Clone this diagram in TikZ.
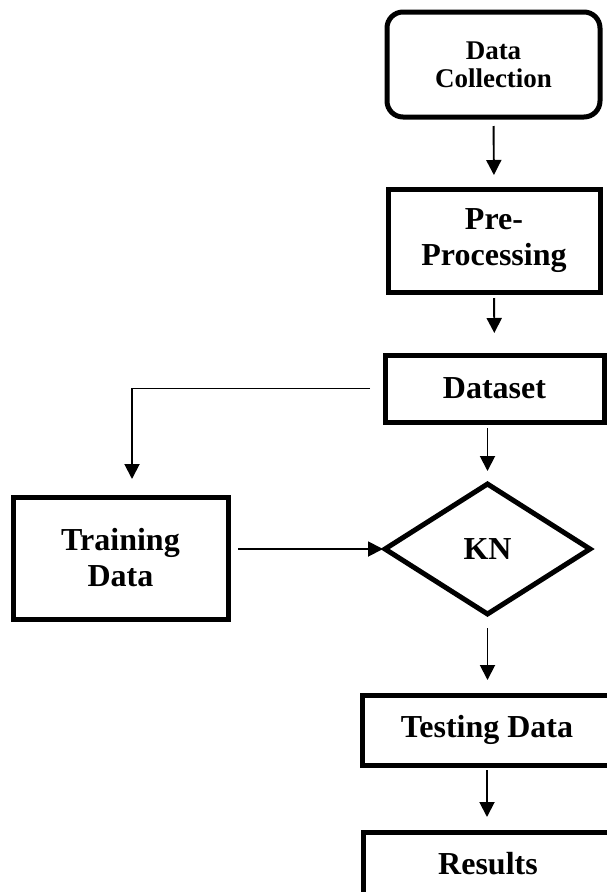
\documentclass[tikz,border=0pt]{standalone}
\usepackage{fontspec}
\setmainfont{Liberation Serif}
\usetikzlibrary{arrows.meta,shapes.geometric}
\begin{document}
\begin{tikzpicture}[x=1pt,y=-1pt,
  box/.style={draw, line width=5pt, rectangle, inner sep=0pt, outer sep=0pt, align=center,
    font=\fontsize{32}{36}\selectfont\bfseries},
  arr/.style={draw, line width=1.9pt, -{Triangle[width=15pt,length=15pt]}}]
\useasboundingbox (0,0) rectangle (607,892);
\node[box, rounded corners=16pt, minimum width=213pt, minimum height=105pt,
  font=\fontsize{27}{28}\selectfont\bfseries] (dc) at (493.5,64.5) {Data\\Collection};
\node[box, minimum width=212pt, minimum height=103pt] (pp) at (494,240.5) {Pre-\\Processing};
\node[box, minimum width=219pt, minimum height=67pt] (ds) at (494.5,388.5) {Dataset};
\node[box, minimum width=215pt, minimum height=122pt] (tr) at (120.5,558) {Training\\Data};
\node[draw, diamond, line width=5pt, inner sep=0pt, outer sep=0pt, minimum width=205pt, minimum height=130pt,
  font=\fontsize{32}{36}\selectfont\bfseries] (kn) at (487.5,549) {KN};
\node[box, minimum width=250pt, minimum height=70pt] (te) at (487,730) {Testing Data};
\node[box, minimum width=250pt, minimum height=64pt] (re) at (488,864) {Results};
\coordinate (c1) at (132,388.5);
\draw[arr, shorten <=9pt, shorten >=14pt] (dc.south) -- (pp.north);
\draw[arr, shorten <=6pt, shorten >=22pt] (pp.south) -- (ds.north);
\draw[arr, shorten <=15pt, shorten >=18pt] (ds.west) -- (c1) -- (c1 |- tr.north);
\draw[arr, shorten <=6pt, shorten >=13pt] (ds.south -| kn.north) -- (kn.north);
\draw[arr, shorten <=10pt, shorten >=2pt] (tr.east |- kn.west) -- (kn.west);
\draw[arr, shorten <=14pt, shorten >=15pt] (kn.south) -- (te.north -| kn.south);
\draw[arr, shorten <=5pt, shorten >=15pt] (te.south) -- (re.north -| te.south);
\end{tikzpicture}
\end{document}
